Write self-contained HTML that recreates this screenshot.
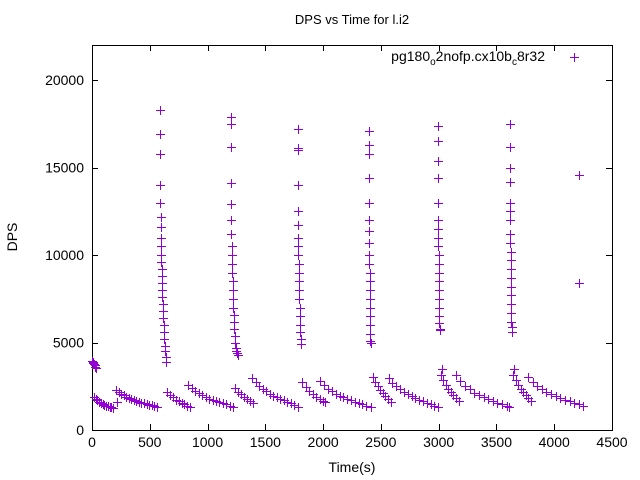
<!DOCTYPE html>
<html><head><meta charset="utf-8">
<style>
html,body{margin:0;padding:0;background:#fff;}
svg{display:block;font-family:"Liberation Sans",sans-serif;}
</style></head>
<body>
<svg id="chart" width="640" height="480" xmlns="http://www.w3.org/2000/svg">
<rect width="640" height="480" fill="#fff"/>
<text x="352" y="24" text-anchor="middle" font-size="13">DPS vs Time for l.i2</text>
<text x="352" y="472" text-anchor="middle" font-size="14">Time(s)</text>
<text x="0" y="0" transform="translate(17,237) rotate(-90)" text-anchor="middle" font-size="14">DPS</text>
<g id="axes" shape-rendering="crispEdges"></g>
<g id="marks" shape-rendering="crispEdges"></g>
<g>
<text x="545" y="61" text-anchor="end" font-size="14">pg180<tspan font-size="10" dy="4">o</tspan><tspan dy="-4">2nofp.cx10b</tspan><tspan font-size="10" dy="4">c</tspan><tspan dy="-4">8r32</tspan></text>
<path d="M570 57.5h9M574.5 53v9" stroke="#9400d3" stroke-width="1" shape-rendering="crispEdges"/>
</g>
</svg>
<script>
const xTicks=[0,500,1000,1500,2000,2500,3000,3500,4000,4500];
const yTicks=[0,5000,10000,15000,20000];
const times=[
0,5,10,15,20,25,30,35,
17,32,47,62,77,92,107,122,137,152,167,182,217,
208,230,252,274,296,318,340,362,384,406,428,450,472,494,516,538,560,
590,590,588,592,592,593,594,595,596,598,600,602,604,606,608,610,612,614,617,620,623,626,630,634,638,642,
650,675,700,725,750,775,800,825,850,
833,863,893,923,953,983,1013,1043,1073,1103,1133,1163,1193,1223,
1200,1200,1202,1204,1205,1206,1207,1208,1210,1212,1214,1216,1218,1220,1223,1226,1229,1232,1236,1240,1245,1250,1255,1260,
1240,1266,1292,1318,1344,1370,1396,
1388,1418,1448,1478,1508,1538,1568,1598,1628,1658,1688,1718,1748,1787,
1780,1780,1781,1782,1783,1784,1785,1786,1787,1788,1789,1790,1792,1794,1796,1798,1800,1803,1806,1810,
1821,1850,1880,1910,1940,1970,2000,2020,
1977,2010,2043,2076,2109,2142,2175,2208,2241,2274,2307,2340,2373,2411,
2394,2394,2395,2395,2396,2397,2398,2399,2400,2401,2402,2403,2404,2405,2406,2407,2408,2409,2410,2411,
2428,2450,2472,2494,2516,2538,2560,2585,
2567,2600,2633,2666,2699,2732,2765,2798,2831,2864,2897,2930,2960,2992,
2992,2992,2993,2993,2994,2995,2996,2997,2998,2999,3000,3001,3002,3003,3004,3005,3006,3007,3008,3010,
3018,3040,3062,3084,3106,3128,3150,3174,3030,
3148,3188,3228,3268,3308,3348,3388,3428,3468,3508,3548,3588,3608,
3615,3615,3616,3616,3617,3618,3619,3620,3621,3622,3623,3624,3625,3626,3627,3628,3629,3630,3632,3635,
3643,3665,3687,3709,3731,3753,3775,3800,3650,
3773,3813,3853,3893,3933,3973,4013,4053,4093,4133,4173,4213,4250,
4215,4215];
const dps=[
3940,3900,3850,3800,3750,3700,3620,3540,
1890,1780,1690,1610,1550,1490,1440,1400,1360,1320,1290,1260,1600,
2290,2170,2070,1980,1900,1830,1770,1710,1660,1610,1570,1530,1490,1450,1410,1370,1320,
18300,16900,15800,14000,13000,12200,11600,11000,10500,10000,9600,9200,8800,8400,8000,7600,7200,6800,6400,6000,5600,5200,4800,4500,4200,3900,
2170,2000,1860,1740,1630,1540,1460,1380,1310,
2570,2380,2220,2090,1980,1880,1800,1720,1650,1580,1520,1460,1400,1330,
17900,17500,16200,14100,12900,12000,11200,10500,10000,9500,9000,8500,8000,7500,7000,6600,6200,5800,5400,5000,4700,4500,4400,4300,
2400,2200,2030,1880,1760,1640,1540,
2970,2720,2520,2350,2210,2080,1970,1870,1780,1690,1600,1520,1430,1300,
17200,16100,16000,14000,12500,11700,11000,10500,10000,9500,9000,8500,8000,7500,7000,6500,6000,5600,5200,4900,
2740,2450,2240,2060,1910,1790,1680,1600,
2800,2560,2370,2210,2080,1970,1870,1780,1700,1620,1550,1470,1390,1290,
17100,16300,15800,14400,13000,12000,11400,10700,10000,9500,9000,8500,8000,7500,7000,6500,6000,5500,5100,4970,
3030,2740,2500,2300,2110,1940,1790,1620,
2970,2700,2490,2320,2170,2040,1930,1830,1740,1650,1570,1480,1390,1300,
17400,16500,15400,14400,13000,12000,11500,11000,10500,10000,9500,9000,8500,8000,7500,7000,6500,6100,5800,5700,
3140,2840,2580,2360,2170,1990,1820,1650,3500,
3140,2800,2530,2320,2140,1990,1860,1750,1650,1560,1470,1380,1300,
17500,16200,15000,14200,13000,12500,12000,11200,10700,10200,9700,9200,8700,8200,7700,7200,6700,6200,5900,5600,
3140,2840,2580,2360,2170,1990,1820,1650,3500,
3030,2740,2510,2330,2170,2040,1920,1820,1730,1640,1560,1470,1380,
14570,8400];

const NS="http://www.w3.org/2000/svg";
const L=92,R=612,T=45,B=430,XMAX=4500,YMAX=22000;
function xs(t){return L+(R-L)*t/XMAX;}
function ys(v){return B-(B-T)*v/YMAX;}
function mk(tag,attrs,parent){const e=document.createElementNS(NS,tag);for(const k in attrs)e.setAttribute(k,attrs[k]);parent.appendChild(e);return e;}
const axes=document.getElementById('axes');
const frame=mk('rect',{x:L+0.5,y:T+0.5,width:R-L,height:B-T,fill:'none',stroke:'#000','stroke-width':1},axes);


xTicks.forEach(t=>{
  const x=Math.round(xs(t))+0.5;
  const tk=mk('path',{d:`M${x} ${B}v-6M${x} ${T}v6`,stroke:'#000','stroke-width':1},axes);
  
  
  const lb=mk('text',{x:xs(t),y:B+17,'text-anchor':'middle','font-size':14},axes);
  lb.textContent=t;
  
  
});
yTicks.forEach(v=>{
  const y=Math.round(ys(v))+0.5;
  const tk=mk('path',{d:`M${L} ${y}h6M${R} ${y}h-6`,stroke:'#000','stroke-width':1},axes);
  
  
  const lb=mk('text',{x:L-8,y:ys(v)+5,'text-anchor':'end','font-size':14},axes);
  lb.textContent=v;
  
  
});
const marks=document.getElementById('marks');
for(let i=0;i<times.length;i++){
  const x=Math.round(xs(times[i]))+0.5,y=Math.round(ys(dps[i]))+0.5;
  const p=mk('path',{d:`M${x-4.5} ${y}h9M${x} ${y-4.5}v9`,stroke:'#9400d3','stroke-width':1.3},marks);
  
  
}
</script>
</body></html>
